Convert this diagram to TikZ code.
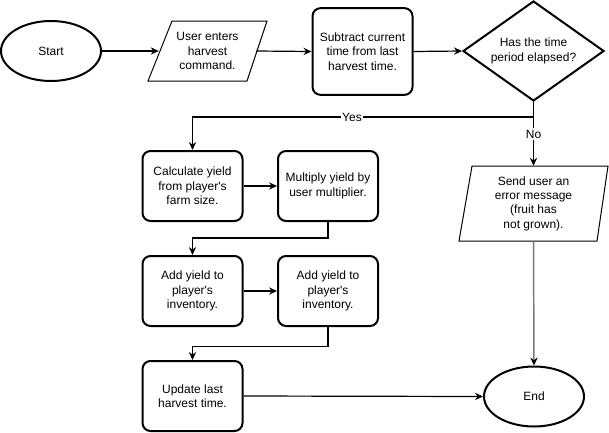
\documentclass[tikz,border=0pt]{standalone}
\usepackage{fontspec}
\setmainfont{Liberation Sans}[Ligatures=TeXOff]
\usetikzlibrary{shapes.geometric,arrows.meta}
\definecolor{linkgray}{RGB}{120,120,120}
\begin{document}
\begin{tikzpicture}[x=0.75pt,y=-0.75pt,
  every node/.style={font=\fontsize{9}{10.8}\selectfont, align=center, inner sep=0pt},
  terminal/.style={ellipse, draw, line width=1.5pt, minimum width=75pt, minimum height=45pt},
  process/.style={rectangle, draw, line width=1.5pt, rounded corners=6pt, minimum width=75pt, minimum height=52.5pt},
  decision/.style={diamond, draw, line width=1.5pt, aspect=1.4, minimum width=105.75pt, minimum height=75pt},
  iobox/.style={rectangle},
  ioshape/.style={draw, line width=0.75pt, line join=miter},
  flow/.style={draw, line width=0.9pt, -{Stealth[length=6pt,width=5.5pt,inset=2pt]}},
  lbl/.style={fill=white, inner sep=1pt}
]
\useasboundingbox (0,0) rectangle (609,432);

% start / end terminals
\node[terminal] (start) at (51,51) {Start};
\node[terminal] (stop) at (534,396.5) {End};

% input: harvest command
\draw[ioshape] (172,21) -- (267,21) -- (247,81) -- (148,81) -- cycle;
\node[iobox, minimum width=72.75pt, minimum height=45pt] (user) at (207.5,51) {User enters\\harvest\\command.};

% time difference
\node[process, minimum height=65pt] (sub) at (362.5,51.5) {Subtract current\\time from last\\harvest time.};

% decision
\node[decision] (dec) at (533.5,51) {Has the time\\period elapsed?};

% error output
\draw[ioshape] (472,166) -- (608,166) -- (597,241) -- (459,241) -- cycle;
\node[iobox, minimum width=102.75pt, minimum height=56.25pt] (err) at (533.5,203.5) {Send user an\\error message\\(fruit has\\not grown).};

% processing steps
\node[process] (calc) at (192.5,186) {Calculate yield\\from player's\\farm size.};
\node[process] (mult) at (328,186) {Multiply yield by\\user multiplier.};
\node[process] (add1) at (192.5,291) {Add yield to\\player's\\inventory.};
\node[process] (add2) at (328,291) {Add yield to\\player's\\inventory.};
\node[process] (upd) at (192.5,396) {Update last\\harvest time.};

% branch point below the decision
\coordinate (split) at (533.5,117);

% connectors
\path[flow] (start.east) -- (user.west);
\path[flow] (user.east) -- (sub.west);
\path[flow] (sub.east) -- (dec.west);
\draw[line width=0.9pt] (dec.south) -- (split);
\path[flow] (split) -| (calc.north);
\node[lbl] (yes) at (352,117) {Yes};
\path[flow] (split) -- (err.north);
\node[lbl] (no) at (533.5,134) {No};
\path[flow] (calc.east) -- (mult.west);
\path[flow] (mult.south) -- ++(0,16) -| (add1.north);
\path[flow] (add1.east) -- (add2.west);
\path[flow] (add2.south) -- ++(0,19.5) -| (upd.north);
\path[flow] (upd.east) -- (stop.west);
\path[flow, draw=linkgray, line width=1.1pt, -{Stealth[length=6pt,width=5.5pt,inset=2pt,black]}] (err.south) -- (stop.north);
\end{tikzpicture}
\end{document}
